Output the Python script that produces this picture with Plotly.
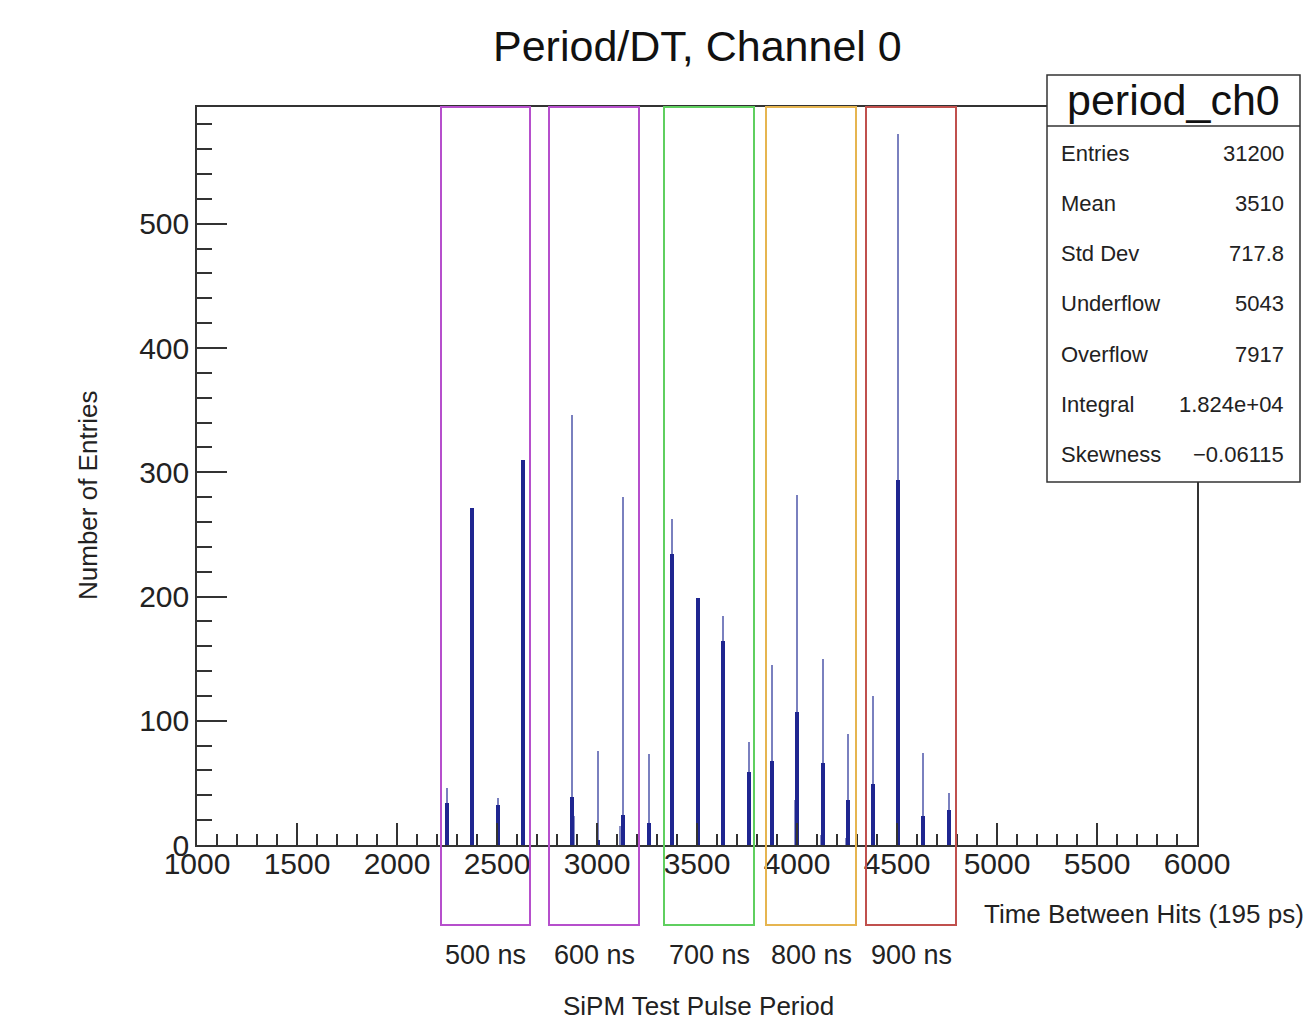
import plotly.graph_objects as go

# ---------------- data ----------------
peak_x = [2250, 2375, 2505, 2630, 2875, 3005, 3130, 3260, 3375, 3505,
          3630, 3760, 3875, 4000, 4130, 4255, 4380, 4505, 4630, 4760]
peak_light = [46, 271, 38, 310, 346, 76, 280, 73, 262, 199,
              184, 83, 145, 282, 150, 89, 120, 572, 74, 42]
peak_dark = [34, 271, 32, 310, 39, 4, 24, 18, 234, 199,
             164, 59, 68, 107, 66, 36, 49, 294, 23, 28]
side_x = [2880, 3120, 3995, 4125, 4250]
side_y = [23, 15, 36, 8, 6]

box_lo = [2220, 2760, 3335, 3845, 4345]
box_hi = [2665, 3210, 3785, 4295, 4795]
box_labels = ["500 ns", "600 ns", "700 ns", "800 ns", "900 ns"]
box_colors = ["#b64fcc", "#b64fcc", "#5fcf5f", "#e6b550", "#c0504d"]

stat_names = ["Entries", "Mean", "Std Dev", "Underflow", "Overflow", "Integral", "Skewness"]
stat_values = ["31200", "3510", "717.8", "5043", "7917", "1.824e+04", "\u22120.06115"]

W, H = 1314, 1020
L, R, T, B = 197, 1197, 107, 845


def px(xp):
    return (xp - L) / (R - L)


def py(yp):
    return (B - yp) / (B - T)


FONT = "Liberation Sans, Arial, Helvetica, sans-serif"
TXT = "#222222"

fig = go.Figure()
fig.add_trace(go.Bar(x=side_x, y=side_y, width=18, marker=dict(color="#8a8fc4", line=dict(width=0)),
                     showlegend=False))
fig.add_trace(go.Bar(x=peak_x, y=peak_light, width=12, marker=dict(color="#7a80bf", line=dict(width=0)),
                     showlegend=False))
fig.add_trace(go.Bar(x=peak_x, y=peak_dark, width=17, marker=dict(color="#1f2690", line=dict(width=0)),
                     showlegend=False))

shapes = []
annotations = []
for lo, hi, lab, col in zip(box_lo, box_hi, box_labels, box_colors):
    shapes.append(dict(type="rect", xref="x", yref="paper", x0=lo, x1=hi,
                       y0=py(925), y1=1.0, line=dict(color=col, width=2), layer="above"))
    annotations.append(dict(text=lab, xref="x", yref="paper", x=(lo + hi) / 2, y=py(955),
                            showarrow=False, font=dict(size=27, color=TXT, family=FONT),
                            xanchor="center", yanchor="middle"))

# stats box
shapes.append(dict(type="rect", xref="paper", yref="paper", x0=px(1047), x1=px(1300),
                   y0=py(482), y1=py(75), fillcolor="white",
                   line=dict(color="#333333", width=1.5), layer="above"))
shapes.append(dict(type="line", xref="paper", yref="paper", x0=px(1047), x1=px(1300),
                   y0=py(126), y1=py(126), line=dict(color="#333333", width=1.5), layer="above"))
annotations.append(dict(text="period_ch0", xref="paper", yref="paper", x=px(1173), y=py(100),
                        showarrow=False, font=dict(size=43, color="#111111", family=FONT),
                        xanchor="center", yanchor="middle"))
for i, (n, v) in enumerate(zip(stat_names, stat_values)):
    yy = 153 + i * 50.3
    annotations.append(dict(text=n, xref="paper", yref="paper", x=px(1059), y=py(yy),
                            showarrow=False, font=dict(size=22, color=TXT, family=FONT),
                            xanchor="left", yanchor="middle"))
    annotations.append(dict(text=v, xref="paper", yref="paper", x=px(1286), y=py(yy),
                            showarrow=False, font=dict(size=22, color=TXT, family=FONT),
                            xanchor="right", yanchor="middle"))

# titles
annotations.append(dict(text="Period/DT, Channel 0", xref="paper", yref="paper", x=px(697), y=py(46),
                        showarrow=False, font=dict(size=43, color="#111111", family=FONT),
                        xanchor="center", yanchor="middle"))
annotations.append(dict(text="Number of Entries", xref="paper", yref="paper", x=px(88), y=py(495),
                        showarrow=False, textangle=-90, font=dict(size=26, color=TXT, family=FONT),
                        xanchor="center", yanchor="middle"))
annotations.append(dict(text="Time Between Hits (195 ps)", xref="paper", yref="paper", x=px(1306), y=py(914),
                        showarrow=False, font=dict(size=26, color=TXT, family=FONT),
                        xanchor="right", yanchor="middle"))
annotations.append(dict(text="SiPM Test Pulse Period", xref="paper", yref="paper", x=px(698), y=py(1006),
                        showarrow=False, font=dict(size=26, color=TXT, family=FONT),
                        xanchor="center", yanchor="middle"))

fig.update_layout(
    width=W, height=H,
    margin=dict(l=L, r=W - R, t=T, b=H - B, pad=0),
    paper_bgcolor="white", plot_bgcolor="white",
    barmode="overlay", bargap=0,
    shapes=shapes, annotations=annotations,
    font=dict(family=FONT, color=TXT),
)
fig.update_xaxes(range=[1000, 6000], showgrid=False, zeroline=False,
                 showline=True, mirror=True, linecolor="#333333", linewidth=1.5,
                 ticks="inside", tickmode="linear", tick0=1000, dtick=500, ticklen=22,
                 tickwidth=1.5, tickcolor="#333333", ticklabelstandoff=-9,
                 minor=dict(ticks="inside", dtick=100, ticklen=11, tickwidth=1.5, tickcolor="#333333"),
                 tickfont=dict(size=30, color=TXT, family=FONT))
fig.update_yaxes(range=[0, 594], showgrid=False, zeroline=False,
                 showline=True, mirror=True, linecolor="#333333", linewidth=1.5,
                 ticks="inside", tickmode="linear", tick0=0, dtick=100, ticklen=30,
                 tickwidth=1.5, tickcolor="#333333",
                 minor=dict(ticks="inside", dtick=20, ticklen=15, tickwidth=1.5, tickcolor="#333333"),
                 tickfont=dict(size=30, color=TXT, family=FONT))

fig.write_html("out.html", config={"displayModeBar": False},
               post_script="document.body.style.margin='0';")
